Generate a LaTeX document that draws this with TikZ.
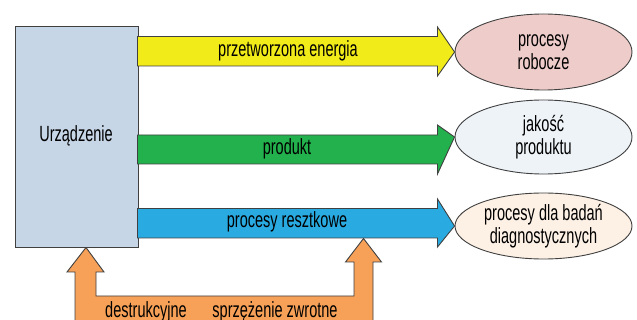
\documentclass[tikz,border=0pt]{standalone}
\usepackage{fontspec}
\setmainfont{Liberation Sans}[FakeStretch=0.66]
\usetikzlibrary{shapes.geometric}
\definecolor{boxfill}{HTML}{C7D6E7}
\definecolor{yel}{HTML}{F2EB1A}
\definecolor{grn}{HTML}{22B14C}
\definecolor{blu}{HTML}{29ABE2}
\definecolor{ora}{HTML}{F7A158}
\definecolor{ell1}{HTML}{EECCCA}
\definecolor{ell2}{HTML}{EEF3F8}
\definecolor{ell3}{HTML}{FDF0E4}
\definecolor{edge}{HTML}{404040}
\tikzset{
  txt/.style={font=\fontsize{22}{23}\selectfont, text=black, align=center, inner sep=0pt},
  outl/.style={draw=edge, line width=0.9pt, line join=miter},
  ell/.style={ellipse, outl, minimum width=177pt, inner sep=0pt, txt}
}
\begin{document}
\begin{tikzpicture}[x=1pt,y=-1pt]
\useasboundingbox (0,0) rectangle (637,320);
\clip (0,0) rectangle (637,320);
% device box
\node[outl, fill=boxfill, minimum width=123pt, minimum height=221pt, inner sep=0pt, anchor=north west] (dev) at (15,26) {};
\node[txt] (devlbl) at (76,136) {Urządzenie};
% ellipses
\node[ell, fill=ell1, minimum height=76pt] (e1) at (543.5,52) {procesy\\robocze};
\node[ell, fill=ell2, minimum height=74pt] (e2) at (543.5,137) {jakość\\produktu};
\node[ell, fill=ell3, minimum height=66pt] (e3) at (543.5,226) {procesy dla badań\\diagnostycznych};
% arrows
\filldraw[outl, fill=yel] (137.5,36.5) -- (437.5,36.5) -- (437.5,27) -- (e1.west) -- (437.5,76) -- (437.5,66) -- (137.5,66) -- cycle;
\filldraw[outl, fill=grn] (137.5,135) -- (437.5,135) -- (437.5,125) -- (e2.west) -- (437.5,174) -- (437.5,164) -- (137.5,164) -- cycle;
\filldraw[outl, fill=blu] (137.5,208.5) -- (437.5,208.5) -- (437.5,199) -- (e3.west) -- (437.5,247) -- (437.5,238) -- (137.5,238) -- cycle;
\node[txt] (l1) at (288,51) {przetworzona energia};
\node[txt] (l2) at (287,149) {produkt};
\node[txt] (l3) at (287,222) {procesy resztkowe};
% feedback
\coordinate (fbL) at (86,247.5);
\coordinate (fbR) at (363.5,238.5);
\filldraw[outl, fill=ora] (75,335) -- (75,272) -- (67,272) -- (fbL) -- (104,272) -- (96,272) -- (96,296) -- (354,296) -- (354,262) -- (345.5,262) -- (fbR) -- (381.5,262) -- (373,262) -- (373,335) -- cycle;
\node[txt, anchor=base] (l4) at (146,317) {destrukcyjne};
\node[txt, anchor=base] (l5) at (275,317) {sprzężenie zwrotne};
\end{tikzpicture}
\end{document}
